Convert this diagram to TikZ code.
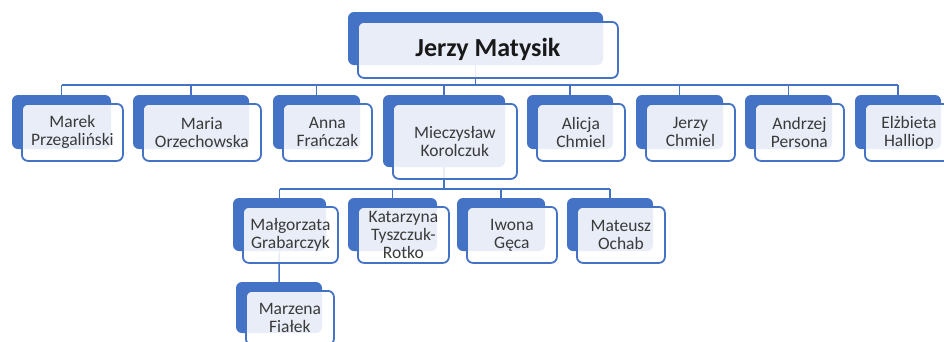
\documentclass[tikz,border=0pt]{standalone}
\usepackage{fontspec}
\setmainfont{Carlito}
\usetikzlibrary{calc}
\definecolor{obl}{HTML}{4472C4}
\definecolor{txt}{HTML}{3A3A3A}
\pgfdeclarelayer{bg}
\pgfsetlayers{bg,main}
\tikzset{
  backbox/.style={fill=obl, rounded corners=6pt, inner sep=0pt, outer sep=0pt},
  frontbox/.style={draw=obl, line width=1.8pt, fill=white, fill opacity=0.88, text opacity=1,
    rounded corners=6pt, inner sep=0pt, align=center, text=txt, font=\fontsize{17.5}{18}\selectfont},
  titlefont/.style={font=\fontsize{26}{30}\selectfont\bfseries, text=black!90},
  conn/.style={draw=obl, line width=1.5pt},
}
\newcommand\pbox[6]{%
  \node[backbox, anchor=north west, minimum width={(#3-#2)*1pt}, minimum height={(#5-#4)*1pt}] (#1b) at (#2,#4) {};
  \node[frontbox, anchor=north west, minimum width={(#3-#2+2)*1pt}, minimum height={(#5-#4+3)*1pt}] (#1) at ({#2+9},{#4+8}) {#6};}
\begin{document}
\begin{tikzpicture}[x=1pt,y=-1pt]
  \useasboundingbox (0,0) rectangle (944,341);
  \clip (0,0) rectangle (944,341);
  % top node
  \node[backbox, anchor=north west, minimum width=255pt, minimum height=53pt] (topb) at (348,12) {};
  \node[frontbox, titlefont, anchor=north west, minimum width=260pt, minimum height=56pt] (top) at (357,21) {Jerzy Matysik};
  % level 1
  \pbox{marek}{12}{111}{95}{149}{Marek\\Przegaliński}
  \pbox{maria}{133}{249}{95}{149}{Maria\\Orzechowska}
  \pbox{anna}{273}{360}{95}{149}{Anna\\Frańczak}
  \pbox{miec}{383}{505}{95}{167}{Mieczysław\\Korolczuk}
  \pbox{alic}{527}{613}{95}{149}{Alicja\\Chmiel}
  \pbox{jchm}{636}{723}{95}{149}{Jerzy\\Chmiel}
  \pbox{andr}{745}{832}{95}{149}{Andrzej\\Persona}
  \pbox{elzb}{855}{941}{95}{149}{Elżbieta\\Halliop}
  % level 2
  \pbox{malg}{233}{326}{198}{251}{Małgorzata\\Grabarczyk}
  \pbox{kata}{348}{437}{198}{251}{Katarzyna\\Tyszczuk-\\Rotko}
  \pbox{iwon}{457}{545}{198}{251}{Iwona\\Gęca}
  \pbox{mate}{567}{653}{198}{251}{Mateusz\\Ochab}
  % level 3
  \pbox{marz}{236}{322}{282}{333}{Marzena\\Fiałek}
  % connectors
  \coordinate (bus1) at (0,85);
  \coordinate (bus2) at (0,189);
  \begin{pgfonlayer}{bg}
    \draw[conn] (topb.center) -- (topb.center |- bus1);
    \draw[conn] (bus1 -| marekb.north) -- (bus1 -| elzbb.north);
    \foreach \n in {marek,maria,anna,miec,alic,jchm,andr,elzb}
      \draw[conn] (bus1 -| \n b.north) -- (\n b.north);
    \draw[conn] (miecb.center) -- (miecb.center |- bus2);
    \draw[conn] (bus2 -| malgb.north) -- (bus2 -| mateb.north);
    \foreach \n in {malg,kata,iwon,mate}
      \draw[conn] (bus2 -| \n b.north) -- (\n b.north);
    \draw[conn] (malgb.center) -- (marzb.north);
  \end{pgfonlayer}
\end{tikzpicture}
\end{document}
